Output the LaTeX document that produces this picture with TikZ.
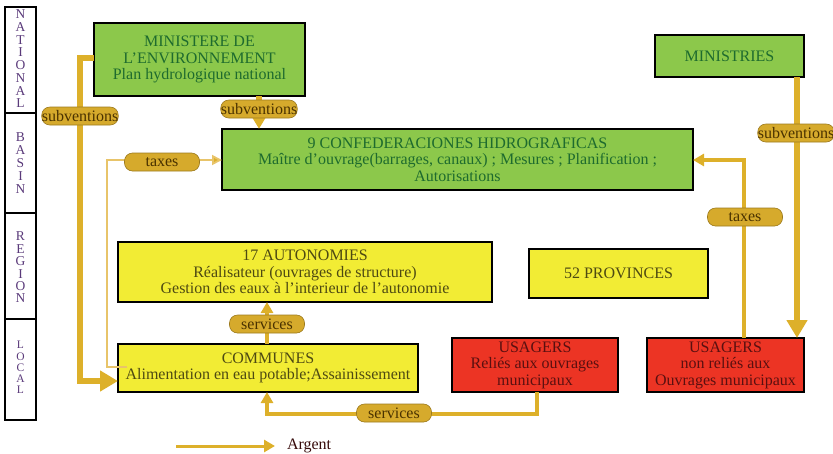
\documentclass[tikz,border=0pt]{standalone}
\usepackage{fontspec}
\setmainfont{Liberation Serif}
\usetikzlibrary{arrows.meta}
\definecolor{boxgreen}{HTML}{8CC84B}
\definecolor{txtgreen}{HTML}{1E6B2E}
\definecolor{boxyellow}{HTML}{F2EC34}
\definecolor{txtolive}{HTML}{4E4A12}
\definecolor{boxred}{HTML}{EC3424}
\definecolor{txtred}{HTML}{5A1010}
\definecolor{gold}{HTML}{DDB02A}
\definecolor{goldlight}{HTML}{E8C46A}
\definecolor{pillfill}{HTML}{D6AA2C}
\definecolor{pilledge}{HTML}{9C7A1E}
\definecolor{pilltxt}{HTML}{4A3200}
\definecolor{levelink}{HTML}{5A3A7A}
\tikzset{
  x=1pt, y=-1pt,
  every node/.style={inner sep=0pt, outer sep=0pt, align=center,
    font=\fontsize{16}{16.5}\selectfont},
  entity/.style={draw=black, line width=1.4pt},
  greenbox/.style={entity, fill=boxgreen, text=txtgreen},
  yellowbox/.style={entity, fill=boxyellow, text=txtolive},
  redbox/.style={entity, fill=boxred, text=txtred},
  levelbox/.style={draw=black, line width=1.2pt},
  levelname/.style={text=levelink, font=\fontsize{13.5}{13.5}\selectfont,
    text height=8.6pt, text depth=0pt},
  smalllevelname/.style={levelname, font=\fontsize{11.5}{11.5}\selectfont,
    text height=7.4pt},
  pill/.style={draw=pilledge, line width=0.6pt, fill=pillfill, text=pilltxt,
    rounded corners=8pt, minimum height=18pt, minimum width=75pt,
    font=\fontsize{16}{16}\selectfont},
  heavyflow/.style={draw=gold, line width=6pt,
    -{Triangle[length=18pt, width=20pt]}},
  midflow/.style={draw=gold, line width=3.5pt,
    -{Triangle[length=11pt, width=12pt]}},
  lightflow/.style={draw=goldlight, line width=1.8pt,
    -{Triangle[length=10pt, width=10pt, fill=gold]}},
}
\begin{document}
\begin{tikzpicture}
\useasboundingbox (0,0) rectangle (833,453);

% level column on the left
\node[levelbox, minimum width=31pt, minimum height=106pt] (lnat) at (20.5,60) {};
\node[levelbox, minimum width=31pt, minimum height=100pt] (lbas) at (20.5,163) {};
\node[levelbox, minimum width=31pt, minimum height=106pt] (lreg) at (20.5,266) {};
\node[levelbox, minimum width=31pt, minimum height=101pt] (lloc) at (20.5,369.5) {};
% level names, one stacked letter per node
\foreach \l [count=\i] in {N,A,T,I,O,N,A,L}
  \node[levelname] (tnat\i) at (20.5,{14.5+12.7*(\i-1)}) {\l};
\foreach \l [count=\i] in {B,A,S,I,N}
  \node[levelname] (tbas\i) at (20.5,{137+13*(\i-1)}) {\l};
\foreach \l [count=\i] in {R,E,G,I,O,N}
  \node[levelname] (treg\i) at (20.5,{236.5+12.4*(\i-1)}) {\l};
\foreach \l [count=\i] in {L,O,C,A,L}
  \node[smalllevelname] (tloc\i) at (20.5,{345+11.3*(\i-1)}) {\l};

% organisations
\node[greenbox, minimum width=211pt, minimum height=73pt] (min) at (199.5,59.5)
  {MINISTERE DE\\L'ENVIRONNEMENT\\Plan hydrologique national};
\node[greenbox, minimum width=471pt, minimum height=61pt] (conf) at (457.5,159.5)
  {9 CONFEDERACIONES HIDROGRAFICAS\\Ma\^itre d'ouvrage(barrages, canaux) ; Mesures ; Planification ;\\Autorisations};
\node[greenbox, minimum width=149pt, minimum height=42pt] (mins) at (729.5,56)
  {MINISTRIES};
\node[yellowbox, minimum width=374pt, minimum height=60pt] (auto) at (305,272)
  {17 AUTONOMIES\\R\'ealisateur (ouvrages de structure)\\Gestion des eaux \`a l'interieur de l'autonomie};
\node[yellowbox, minimum width=179pt, minimum height=49pt] (prov) at (618.5,273.5)
  {52 PROVINCES};
\node[yellowbox, minimum width=300pt, minimum height=48pt] (comm) at (268,368)
  {COMMUNES\\Alimentation en eau potable;Assainissement};
\node[redbox, minimum width=166pt, minimum height=54pt] (usa) at (535,365)
  {USAGERS\\Reli\'es aux ouvrages\\municipaux};
\node[redbox, minimum width=157pt, minimum height=54pt] (usb) at (725.5,365)
  {USAGERS\\non reli\'es aux\\Ouvrages municipaux};

% routing points
\coordinate (lsub1) at (80,58);
\coordinate (lsub2) at (80,381);
\coordinate (ltax0) at (127,367);
\coordinate (ltax1) at (107,367);
\coordinate (ltax2) at (107,160);
\coordinate (rtax) at (744,160);
\coordinate (svc1) at (537,414);
\coordinate (svc2) at (267,414);

% money flows
\draw[heavyflow] (min.west |- lsub1) -- (lsub1) -- (lsub2) -- (comm.west |- lsub2);
\draw[heavyflow] (259,96) -- (259,129);
\draw[heavyflow] (797,77) -- (797,338);
\draw[lightflow] (ltax0) -- (ltax1) -- (ltax2) -- (conf.west |- ltax2);
\draw[midflow] (744,338) -- (rtax) -- (conf.east |- rtax);
\draw[midflow] (267,344) -- (267,302);
\draw[midflow] (537,392) -- (svc1) -- (svc2) -- (267,392);

% flow labels
\node[pill] (p1) at (80,116) {subventions};
\node[pill] (p2) at (259,109) {subventions};
\node[pill] (p3) at (796,133) {subventions};
\node[pill] (p4) at (162,162) {taxes};
\node[pill] (p5) at (745,217) {taxes};
\node[pill] (p6) at (267,324) {services};
\node[pill] (p7) at (394,413) {services};

% legend
\coordinate (lg1) at (176,446);
\coordinate (lg2) at (275,446);
\draw[midflow, line width=3pt] (lg1) -- (lg2);
\node[anchor=west, text=txtred!60!black] (lgt) at (287,446) {Argent};
\end{tikzpicture}
\end{document}
